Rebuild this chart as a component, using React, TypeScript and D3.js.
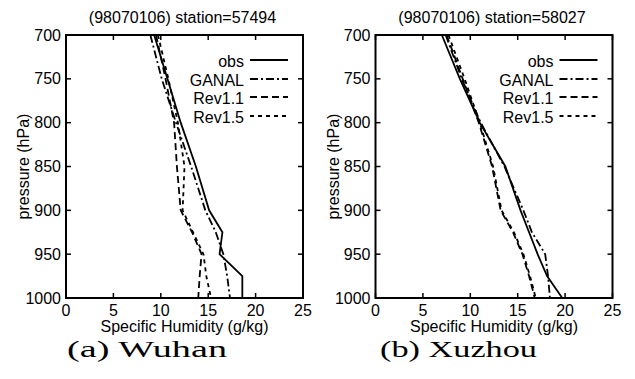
import React from 'react';
import * as d3 from 'd3';

const levels = [700, 750, 800, 850, 900, 925, 950, 975, 1000];
const wuhanObs = [9.3, 10.7, 12.1, 13.7, 15.1, 16.5, 16.2, 18.6, 18.6];
const wuhanGanal = [8.9, 10.1, 11.6, 13.2, 14.7, 15.8, 16.6, 17.0, 17.3];
const wuhanRev11 = [9.5, 10.5, 11.4, 11.7, 12.1, 13.3, 14.3, 14.1, 13.95];
const wuhanRev15 = [9.7, 10.8, 11.8, 12.5, 12.3, 13.4, 14.5, 14.8, 15.3];
const xuzhouObs = [7.0, 8.9, 11.0, 13.7, 15.3, 16.2, 17.1, 18.1, 19.7];
const xuzhouGanal = [7.4, 9.1, 11.1, 13.6, 15.6, 16.5, 17.9, 18.2, 18.4];
const xuzhouRev11 = [7.5, 9.2, 10.9, 12.3, 13.2, 14.5, 15.5, 16.2, 16.8];
const xuzhouRev15 = [7.7, 9.4, 11.0, 12.4, 13.3, 14.6, 15.6, 16.3, 16.9];
const xTicks = [0, 5, 10, 15, 20, 25];
const yTicks = [700, 750, 800, 850, 900, 950, 1000];
const seriesNames = ['obs', 'GANAL', 'Rev1.1', 'Rev1.5'];
const panelTitles = ['(98070106) station=57494', '(98070106) station=58027'];
const captions = ['(a) Wuhan', '(b) Xuzhou'];

const dashes = [undefined, '8,3,2,3', '7,4', '4,4'];
const FONT = 'Liberation Sans, Arial, Helvetica, sans-serif';

type PanelProps = {
  left: number;
  title: string;
  caption: string;
  captionX: number;
  captionW: number;
  series: number[][];
};

const W = 237;
const TOP = 35;
const BOTTOM = 298;

function Panel({ left, title, caption, captionX, captionW, series }: PanelProps) {
  const x = d3.scaleLinear().domain([0, 25]).range([left, left + W]);
  const y = d3.scaleLinear().domain([700, 1000]).range([TOP, BOTTOM]);
  const line = d3
    .line<[number, number]>()
    .x((d) => x(d[0]))
    .y((d) => y(d[1]));
  const cx = left + W / 2;
  const legX = left + W - 15;
  const legRows = [60, 79, 97, 116];
  return (
    <g>
      <text x={cx - 2} y={23} textAnchor="middle" fontFamily={FONT} fontSize={16}>
        {title}
      </text>
      {series.map((vals, i) => (
        <path
          key={i}
          d={line(vals.map((v, j) => [v, levels[j]] as [number, number])) || ''}
          fill="none"
          stroke="#000"
          strokeWidth={1.8}
          strokeDasharray={dashes[i]}
        />
      ))}
      {seriesNames.map((n, i) => (
        <g key={n}>
          <text
            x={legX - 44}
            y={legRows[i] + 1}
            textAnchor="end"
            dominantBaseline="central"
            fontFamily={FONT}
            fontSize={16}
          >
            {n}
          </text>
          <line
            x1={legX - 38}
            x2={legX}
            y1={legRows[i]}
            y2={legRows[i]}
            stroke="#000"
            strokeWidth={1.8}
            strokeDasharray={dashes[i]}
          />
        </g>
      ))}
      {xTicks.map((t) => (
        <g key={'x' + t}>
          <line x1={x(t)} x2={x(t)} y1={BOTTOM} y2={BOTTOM - 5} stroke="#000" strokeWidth={1.5} />
          <line x1={x(t)} x2={x(t)} y1={TOP} y2={TOP + 5} stroke="#000" strokeWidth={1.5} />
          <text x={x(t)} y={316} textAnchor="middle" fontFamily={FONT} fontSize={16}>
            {t}
          </text>
        </g>
      ))}
      {yTicks.map((t) => (
        <g key={'y' + t}>
          <line x1={left} x2={left + 5} y1={y(t)} y2={y(t)} stroke="#000" strokeWidth={1.5} />
          <line x1={left + W} x2={left + W - 5} y1={y(t)} y2={y(t)} stroke="#000" strokeWidth={1.5} />
          <text
            x={left - 5}
            y={y(t)}
            textAnchor="end"
            dominantBaseline="central"
            fontFamily={FONT}
            fontSize={16}
          >
            {t}
          </text>
        </g>
      ))}
      <rect x={left} y={TOP} width={W} height={BOTTOM - TOP} fill="none" stroke="#000" strokeWidth={2} />
      <text x={cx} y={332} textAnchor="middle" fontFamily={FONT} fontSize={16}>
        Specific Humidity (g/kg)
      </text>
      <text
        transform={`translate(${left - 37},${(TOP + BOTTOM) / 2}) rotate(-90)`}
        textAnchor="middle"
        fontFamily={FONT}
        fontSize={16}
      >
        pressure (hPa)
      </text>
      <text
        x={captionX - captionW / 2}
        y={357}
        fontFamily="Liberation Serif, 'DejaVu Serif', serif"
        fontSize={24}
        textLength={captionW}
        lengthAdjust="spacingAndGlyphs"
      >
        {caption}
      </text>
    </g>
  );
}

export default function App() {
  return (
    <svg width={635} height={379} style={{ position: 'absolute', left: 0, top: 0, background: '#fff' }}>
      <rect width={635} height={379} fill="#fff" />
      <Panel
        left={66}
        title={panelTitles[0]}
        caption={captions[0]}
        captionX={147}
        captionW={160}
        series={[wuhanObs, wuhanGanal, wuhanRev11, wuhanRev15]}
      />
      <Panel
        left={375.5}
        title={panelTitles[1]}
        caption={captions[1]}
        captionX={458.5}
        captionW={157}
        series={[xuzhouObs, xuzhouGanal, xuzhouRev11, xuzhouRev15]}
      />
    </svg>
  );
}
